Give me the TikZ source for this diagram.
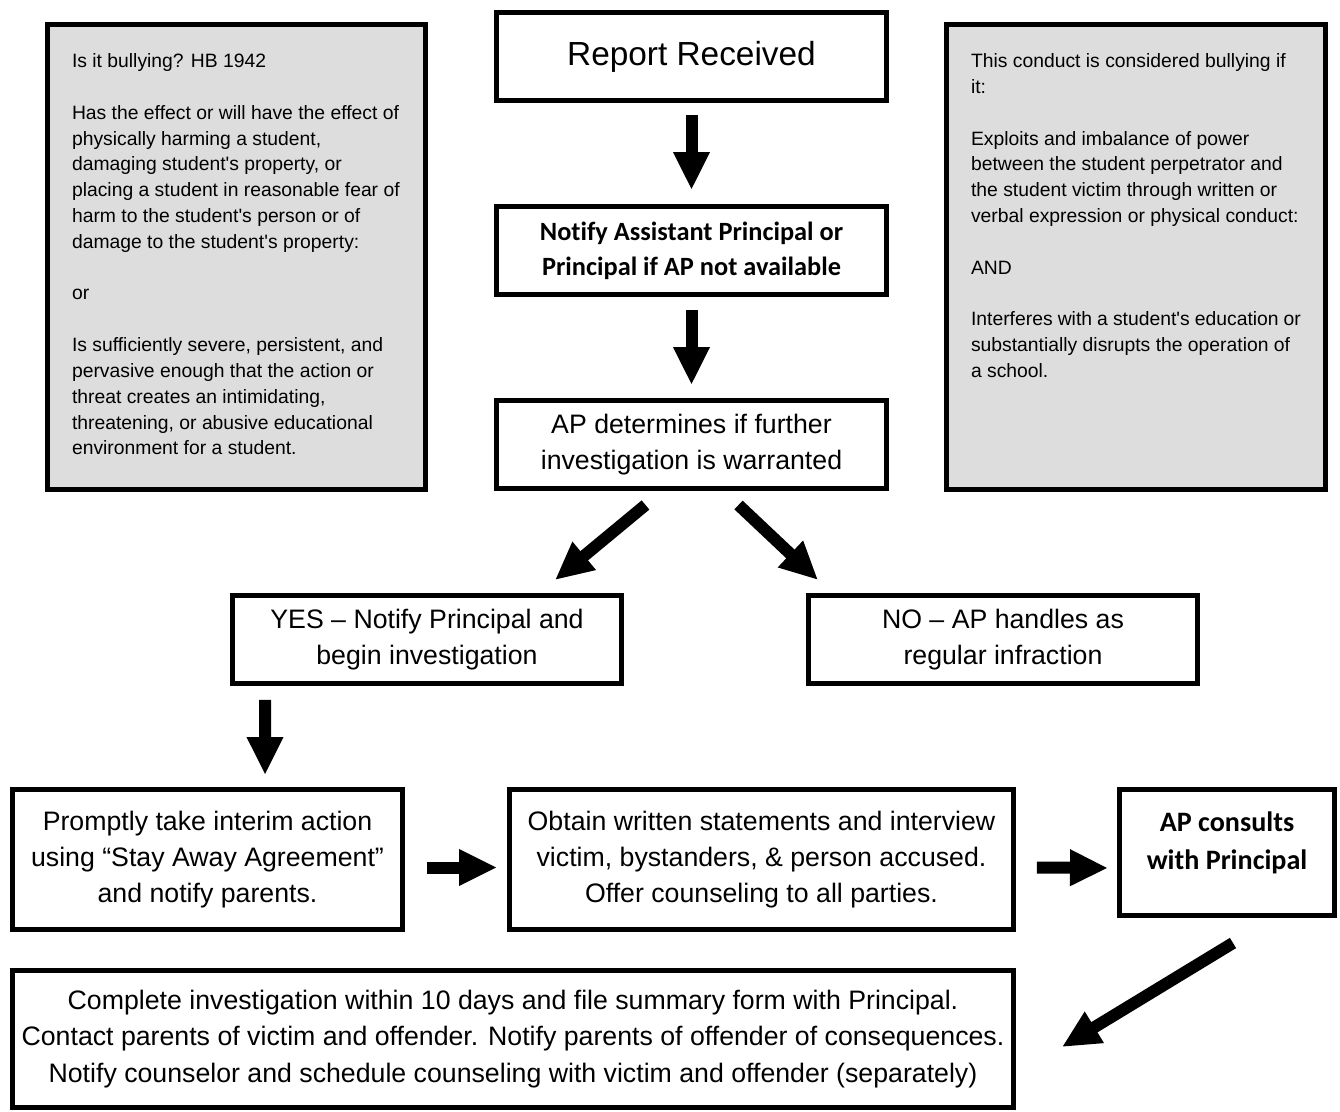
\documentclass[tikz,border=0pt]{standalone}
\usepackage{fontspec}
\setmainfont{Liberation Sans}
\newfontfamily\calibri[Ligatures={NoCommon}]{Carlito}
\usetikzlibrary{arrows.meta,positioning,calc}
\definecolor{notegray}{RGB}{221,221,221}
\newcommand{\apos}{\textquotesingle}
\tikzset{
box/.style={draw=black,line width=0.1cm,fill=white,align=center,inner sep=0pt},
notebox/.style={draw=black,line width=0.1cm,fill=notegray,inner xsep=0.49cm,inner ysep=0.58cm},
fatarrow/.style={line width=0.24cm,-{Triangle[length=0.76cm,width=0.68cm]}},
steptext/.style={font=\fontsize{15.2}{20.7}\selectfont},
boldtext/.style={font=\calibri\bfseries\fontsize{15}{19.8}\selectfont},
notetext/.style={font=\fontsize{11}{14.7}\selectfont},
}

\begin{document}
\begin{tikzpicture}[x=0.02cm,y=-0.02cm]
\useasboundingbox (0,0) rectangle (1340,1112);

% side notes
\node[notebox,notetext] (isit) at (236.5,257) {\parbox[c][8.14cm][t]{6.58cm}{\raggedright
Is it bullying? HB 1942\\[14.7pt]
Has the effect or will have the effect of\\
physically harming a student,\\
damaging student\apos s property, or\\
placing a student in reasonable fear of\\
harm to the student\apos s person or of\\
damage to the student\apos s property:\\[14.7pt]
or\\[14.7pt]
Is sufficiently severe, persistent, and\\
pervasive enough that the action or\\
threat creates an intimidating,\\
threatening, or abusive  educational\\
environment for a student.}};

\node[notebox,notetext] (conduct) at (1136,257) {\parbox[c][8.14cm][t]{6.6cm}{\raggedright
This conduct is considered bullying if\\
it:\\[14.7pt]
Exploits and imbalance of power\\
between the student perpetrator and\\
the student victim through written or\\
verbal expression or physical conduct:\\[14.7pt]
AND\\[14.7pt]
Interferes with a student\apos s education or\\
substantially disrupts the operation of\\
a school.}};

% steps
\node[box,minimum width=7.8cm,minimum height=1.76cm,font=\fontsize{19}{23}\selectfont] (report) at (691.5,56.5) {Report Received};
\node[box,boldtext,minimum width=7.8cm,minimum height=1.76cm] (notify) at (691.5,250.5) {Notify Assistant Principal or\\Principal if AP not available};
\node[box,steptext,minimum width=7.8cm,minimum height=1.76cm] (ap) at (691.5,444.5) {AP determines if further\\investigation is warranted};
\node[box,steptext,minimum width=7.78cm,minimum height=1.76cm] (yes) at (427,639.5) {YES – Notify Principal and\\begin investigation};
\node[box,steptext,minimum width=7.78cm,minimum height=1.76cm] (no) at (1003,639.5) {NO – AP handles as\\regular infraction};
\node[box,steptext,minimum width=7.8cm,minimum height=2.8cm] (prompt) at (207.5,859.5) {Promptly take interim action\\using “Stay Away Agreement”\\and notify parents.};
\node[box,steptext,minimum width=10.08cm,minimum height=2.8cm] (obtain) at (761.5,859.5) {Obtain written statements and interview\\victim, bystanders, \& person accused.\\Offer counseling to all parties.};
\node[box,inner ysep=0.45cm,font=\calibri\bfseries\fontsize{16}{21.5}\selectfont] (consult) at (1227,852.5) {\parbox[c][1.62cm][t]{4.3cm}{\centering AP consults\\with Principal}};
\node[box,steptext,minimum width=20.02cm,minimum height=2.74cm] (complete) at (513,1039) {Complete investigation within 10 days and file summary form with Principal.\\Contact parents of victim and offender. Notify parents of offender of consequences.\\Notify counselor and schedule counseling with victim and offender (separately)};

% arrows
\draw[fatarrow,shorten <=0.24cm,shorten >=0.28cm] (report) -- (notify);
\draw[fatarrow,shorten <=0.26cm,shorten >=0.26cm] (notify) -- (ap);
\draw[fatarrow] ($(ap.south)+(-46,14)$) -- ($(yes.north east)+(-69,-13)$);
\draw[fatarrow] ($(ap.south)+(47,14)$) -- ($(no.north west)+(12,-13)$);
\draw[fatarrow] ($(yes.south west)+(35,14)$) -- ($(prompt.north west)+(255,-12)$);
\draw[fatarrow] ($(prompt.east)+(22,8)$) -- ($(obtain.west)+(-10,8)$);
\draw[fatarrow] ($(obtain.east)+(21,8)$) -- ($(consult.west)+(-9,15.5)$);
\draw[fatarrow] ($(consult.south)+(6,25)$) -- ($(complete.east)+(46,8)$);
\end{tikzpicture}
\end{document}
